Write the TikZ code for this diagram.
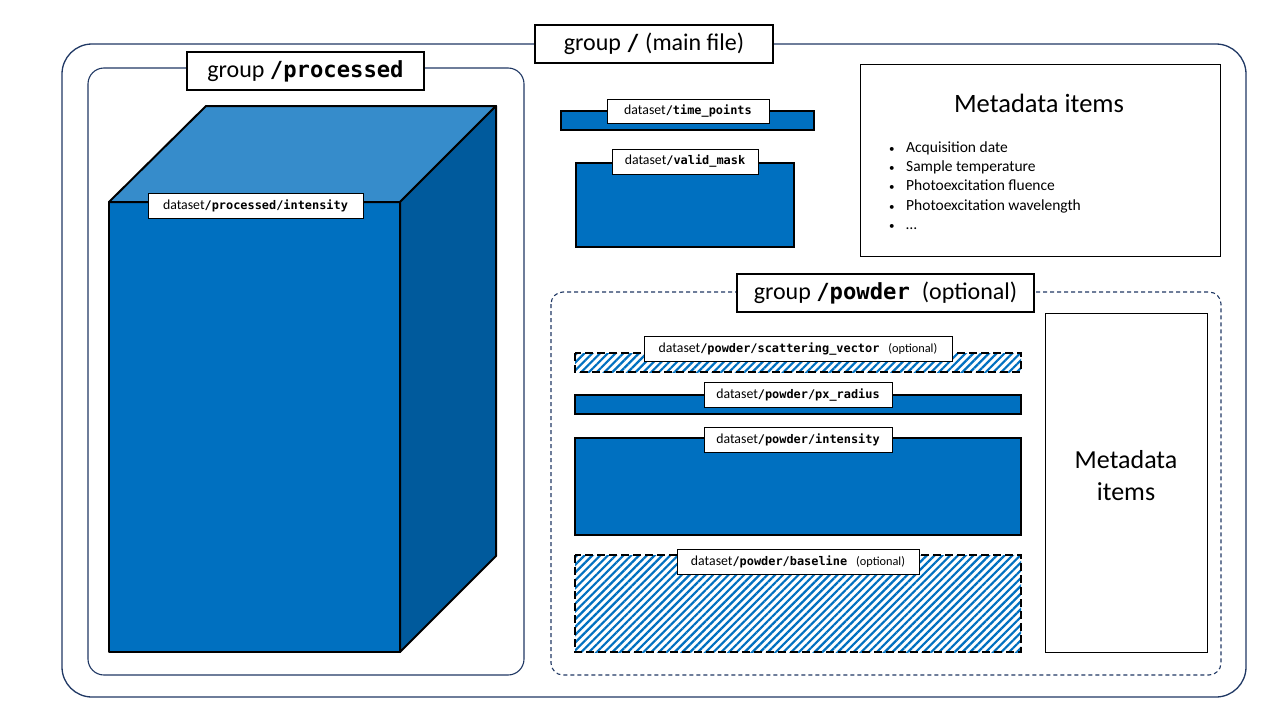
\documentclass[tikz,border=0pt]{standalone}
\usepackage{fontspec}
\setmainfont{Carlito}
\setmonofont{DejaVu Sans Mono}
\usepackage{tikz}
\usetikzlibrary{patterns.meta}

\definecolor{navy}{HTML}{203864}
\definecolor{dsblue}{HTML}{0070C0}
\definecolor{dstop}{HTML}{368CCB}
\definecolor{dsside}{HTML}{005A9C}

\newcommand{\gpath}[1]{{\fontsize{22.2}{26}\selectfont\ttfamily\bfseries #1}}
\newcommand{\dpath}[1]{{\fontsize{11.9}{14}\selectfont\ttfamily\bfseries #1}}
\newcommand{\opt}{\hspace{9pt}{\fontsize{12.3}{14}\selectfont(optional)}}
\newcommand{\itm}{\makebox[17pt][l]{\fontsize{11}{12}\selectfont\textbullet}}

\begin{document}
\begin{tikzpicture}[x=1pt,y=-1pt,
		grouplabel/.style={draw,fill=white,line width=1.2pt,inner sep=0pt,
			minimum height=38pt,font=\fontsize{24}{28}\selectfont},
		dslabel/.style={draw,fill=white,line width=0.9pt,inner sep=0pt,
			minimum height=25pt,font=\fontsize{13.8}{16}\selectfont},
		dsfull/.style={fill=dsblue,draw=black,line width=2.5pt},
		dshatch/.style={fill=white,pattern={Lines[angle=45,distance=5.5pt,line width=2.2pt]},
			pattern color=dsblue},
		dshatchedge/.style={draw=black,line width=2.5pt,dash pattern=on 8pt off 4pt}]
		\useasboundingbox (0,0) rectangle (1280,720);

		\draw [navy,line width=1.3pt,rounded corners=30pt] (62,44) rectangle (1246,697);
		\draw [navy,line width=1.1pt,rounded corners=16pt] (88,68) rectangle (524,675);
		\draw [navy,line width=1.1pt,rounded corners=12pt,dash pattern=on 4pt off 3pt] (551,292) rectangle (1221,675);

		\begin{scope}[line width=2pt,line join=round]
			\draw [fill=dsblue] (109,202) rectangle (400,652);
			\draw [fill=dstop] (109,202) -- (206,106) -- (496,106) -- (400,202) -- cycle;
			\draw [fill=dsside] (400,202) -- (496,106) -- (496,556) -- (400,652) -- cycle;
		\end{scope}

		\draw [dsfull] (561,111) rectangle (814,130);
		\draw [dsfull] (576,163) rectangle (794,247);
		\draw [dsfull] (575,395) rectangle (1021,414);
		\draw [dsfull] (575,438) rectangle (1021,535);
		\path [dshatch] (575,353) rectangle (1021,372);
		\draw [dshatchedge] (575,353) rectangle (1021,372);
		\path [dshatch] (575,555) rectangle (1021,652);
		\draw [dshatchedge] (575,555) rectangle (1021,652);

		\begin{scope}[every node/.style={grouplabel}]
			\node [minimum width=238pt] (Main) at (654,44) {group \gpath{/} (main file)};
			\node [minimum width=237pt] (Proc) at (305.5,71) {group \gpath{/processed}};
			\node [minimum width=297pt] (Powder) at (885.5,293) {group \gpath{/powder}\hspace{12pt}(optional)};
		\end{scope}

		\begin{scope}[every node/.style={dslabel}]
			\node [minimum width=215pt] (ProcInt) at (255.5,206) {dataset\dpath{/processed/intensity}};
			\node [minimum width=162pt,minimum height=24pt] (Times) at (688,111) {dataset\dpath{/time\_points}};
			\node [minimum width=146pt] (Mask) at (685,161.5) {dataset\dpath{/valid\_mask}};
			\node [minimum width=308pt] (Scatter) at (798,349) {dataset\dpath{/powder/scattering\_vector}\opt};
			\node [minimum width=188pt] (Radius) at (798,395) {dataset\dpath{/powder/px\_radius}};
			\node [minimum width=188pt] (PowInt) at (798,439.5) {dataset\dpath{/powder/intensity}};
			\node [minimum width=242pt] (Base) at (798,561.5) {dataset\dpath{/powder/baseline}\opt};
		\end{scope}

		\node [draw,line width=1pt,minimum width=360pt,minimum height=192pt] (Meta) at (1040,160) {};
		\node [font=\fontsize{26.5}{32}\selectfont] (MetaTitle) at (1039,103) {Metadata items};
		\node [anchor=west,inner sep=0pt,align=left,font=\fontsize{15.5}{19.3}\selectfont] (MetaList) at (889,185.5)
			{\itm Acquisition date\\
			\itm Sample temperature\\
			\itm Photoexcitation fluence\\
			\itm Photoexcitation wavelength\\
			\itm\ldots};
		\node [draw,line width=1pt,minimum width=162pt,minimum height=339pt] (PowMeta) at (1126,482.5) {};
		\node [align=center,font=\fontsize{26}{32}\selectfont] (PowMetaText) at (1126,476) {Metadata\\items};
	\end{tikzpicture}
\end{document}
